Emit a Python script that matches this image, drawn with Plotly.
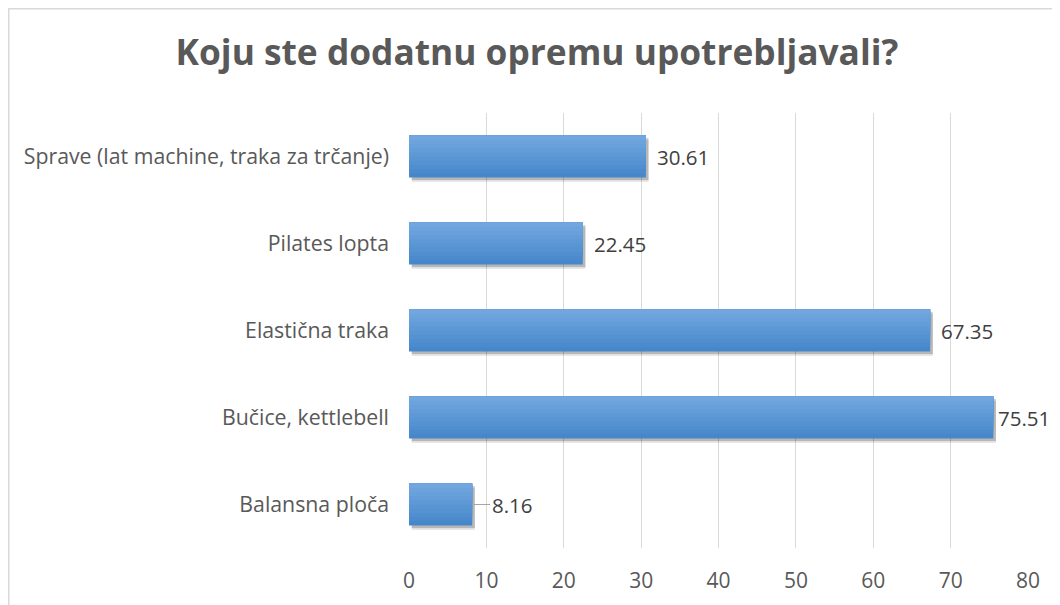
'''Horizontal bar chart: dodatna oprema'''
import plotly.graph_objects as go

# Data (bottom to top, as drawn)
categories = [
    "Balansna ploča",
    "Bučice, kettlebell",
    "Elastična traka",
    "Pilates lopta",
    "Sprave (lat machine, traka za trčanje)",
]
values = [8.16, 75.51, 67.35, 22.45, 30.61]
x_ticks = [0, 10, 20, 30, 40, 50, 60, 70, 80]

title = "Koju ste dodatnu opremu upotrebljavali?"


def lerp_color(c0, c1, t):
    return "rgb({},{},{})".format(*[round(a + (b - a) * t) for a, b in zip(c0, c1)])


def main():
    fig = go.Figure()

    bar_w = 0.483
    half = bar_w / 2

    # Soft shadow, two layers
    for shift, alpha in [(0.05, 0.12), (0.03, 0.18)]:
        fig.add_trace(go.Bar(
            y=categories, x=values, orientation="h",
            base=0.35, width=bar_w, offset=-half - shift,
            marker=dict(color=f"rgba(0,0,0,{alpha})", line_width=0),
            hoverinfo="skip", showlegend=False,
        ))

    # Gradient bars: dark at bottom, light at top
    dark = (70, 135, 203)
    light = (113, 167, 222)
    n = 10
    step = bar_w / n
    for i in range(n):
        off = -half + i * step
        fig.add_trace(go.Bar(
            y=categories, x=values, orientation="h",
            width=half - off, offset=off,
            marker=dict(color=lerp_color(dark, light, i / (n - 1)), line_width=0),
            hoverinfo="skip", showlegend=False,
        ))

    # Data labels (the longest bar's label sits a bit closer, as in Excel)
    top = max(values)
    for cat, val in zip(categories, values):
        if val < 10:
            fig.add_annotation(
                x=val, y=cat, text=f"{val:.2f}", showarrow=True,
                arrowhead=0, arrowwidth=1, arrowcolor="#A6A6A6",
                ax=18, ay=0, standoff=0, xanchor="left",
                font=dict(size=20.5, color="#404040"),
            )
        else:
            fig.add_annotation(
                x=val, y=cat, text=f"{val:.2f}", showarrow=False,
                xanchor="left", xshift=3 if val == top else 9,
                font=dict(size=20.5, color="#404040"),
            )

    # Outer chart border
    fig.add_shape(
        type="rect", xref="paper", yref="paper",
        x0=-0.6466, y0=-0.3, x1=1.2, y1=1.2397,
        line=dict(color="#D9D9D9", width=1.5), layer="below",
    )

    fig.update_layout(
        width=1060, height=605,
        barmode="overlay",
        plot_bgcolor="white", paper_bgcolor="white",
        margin=dict(l=401, r=40, t=105, b=65),
        font=dict(family="Open Sans, sans-serif", color="#595959"),
        title=dict(
            text=f"<b>{title}</b>", x=0.499, xanchor="center",
            y=0.9256, yanchor="middle",
            font=dict(size=35.3, color="#595959"),
        ),
    )

    fig.update_xaxes(
        range=[0, 80], tickvals=x_ticks, showgrid=True,
        gridcolor="#D9D9D9", gridwidth=1.3, zeroline=False,
        showline=False, ticks="", ticklabelstandoff=18,
        tickfont=dict(size=21, color="#595959"),
    )
    fig.update_yaxes(
        categoryorder="array", categoryarray=categories,
        showgrid=False, showline=False, ticks="", ticklabelstandoff=19,
        tickfont=dict(size=21.3, color="#595959"),
    )

    fig.write_html("out.html")


if __name__ == "__main__":
    main()
